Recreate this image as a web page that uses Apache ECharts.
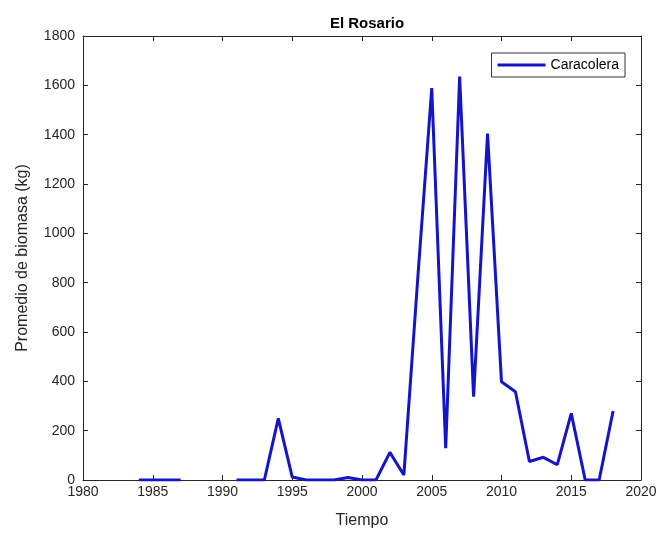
<!DOCTYPE html>
<html>
<head>
<meta charset="utf-8">
<script src="https://cdn.jsdelivr.net/npm/echarts@6/dist/echarts.min.js"></script>
<style>html,body{margin:0;padding:0;background:#fff}#c{width:660px;height:540px}</style>
</head>
<body>
<div id="c"></div>
<script>
const years = [1984,1985,1986,1987,1988,1989,1990,1991,1992,1993,1994,1995,1996,1997,1998,1999,2000,2001,2002,2003,2004,2005,2006,2007,2008,2009,2010,2011,2012,2013,2014,2015,2016,2017,2018];
const caracolera = [0,0,0,0,null,null,null,0,0,0,250,12,0,0,0,10,0,0,112,20,820,1589,129,1636,338,1404,398,358,75,92,62,270,0,0,280];
const yTicks = [0,200,400,600,800,1000,1200,1400,1600,1800];
const xTicks = [1980,1985,1990,1995,2000,2005,2010,2015,2020];

const chart = echarts.init(document.getElementById('c'));
const font = 'Liberation Sans, Arial, Helvetica, sans-serif';
const axisCol = '#262626';
const data = years.map((y,i)=>[y, caracolera[i]===null ? '-' : caracolera[i]]);
const commonTick = {show:true, inside:true, length:5, lineStyle:{color:axisCol}};
chart.setOption({
  animation:false,
  backgroundColor:'#fff',
  title:{text:'El Rosario', left:362, textAlign:'center', top:11,
    textStyle:{fontFamily:font, fontSize:15, fontWeight:'bold', color:'#000'}},
  grid:{left:83, right:19, top:36, bottom:60},
  legend:{right:35, top:53, data:['Caracolera'], itemWidth:48, itemHeight:3,
    borderColor:'#333', borderWidth:1, padding:[5,6,5,6], backgroundColor:'#fff',
    textStyle:{fontFamily:font, fontSize:14, color:'#000'},
    icon:'rect'},
  xAxis:[{type:'value', min:1980, max:2020, interval:5, position:'bottom',
    name:'Tiempo', nameLocation:'middle', nameGap:33,
    nameTextStyle:{fontFamily:font, fontSize:16, color:axisCol},
    axisLine:{show:true, onZero:false, lineStyle:{color:axisCol, width:1}},
    axisTick:commonTick, splitLine:{show:false},
    axisLabel:{fontFamily:font, fontSize:14, color:axisCol, margin:5,
      formatter:v=>xTicks.includes(v)?String(v):''}},
   {type:'value', min:1980, max:2020, interval:5, position:'top',
    axisLine:{show:true, onZero:false, lineStyle:{color:axisCol, width:1}},
    axisTick:commonTick, axisLabel:{show:false}, splitLine:{show:false}}],
  yAxis:[{type:'value', min:0, max:1800, interval:200, position:'left',
    name:'Promedio de biomasa (kg)', nameLocation:'middle', nameGap:52,
    nameTextStyle:{fontFamily:font, fontSize:16, color:axisCol},
    axisLine:{show:true, lineStyle:{color:axisCol, width:1}},
    axisTick:commonTick, splitLine:{show:false},
    axisLabel:{fontFamily:font, fontSize:14, color:axisCol, margin:8,
      formatter:v=>yTicks.includes(v)?String(v):''}},
   {type:'value', min:0, max:1800, interval:200, position:'right',
    axisLine:{show:true, lineStyle:{color:axisCol, width:1}},
    axisTick:commonTick, axisLabel:{show:false}, splitLine:{show:false}}],
  series:[{name:'Caracolera', type:'line', data:data, showSymbol:false, symbol:'none',
    connectNulls:false,
    lineStyle:{color:'#1414c8', width:3}, itemStyle:{color:'#1414c8'}}]
});
</script>
</body>
</html>
